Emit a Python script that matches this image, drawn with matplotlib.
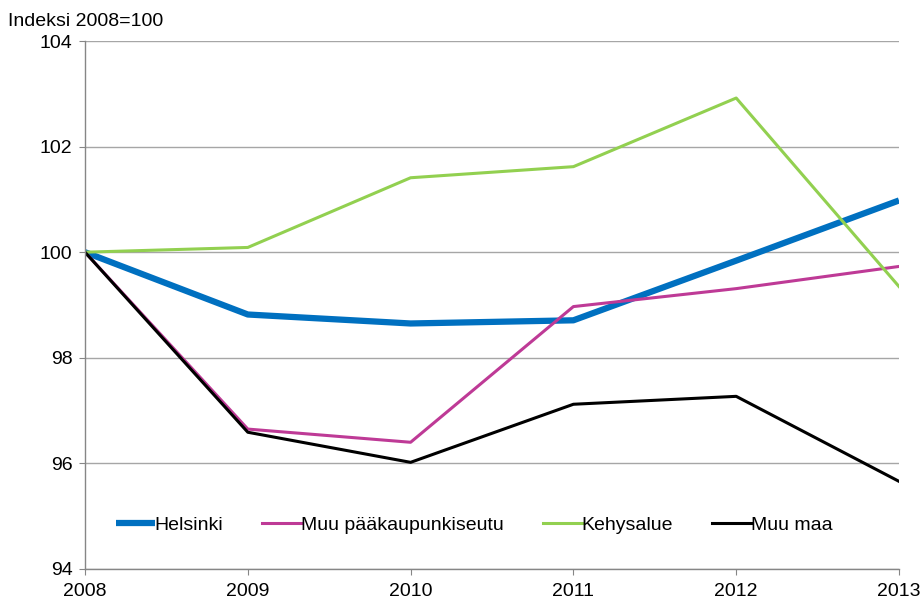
import matplotlib.pyplot as plt

plt.rcParams['font.family'] = ['Liberation Sans', 'DejaVu Sans']

years = [2008, 2009, 2010, 2011, 2012, 2013]

helsinki = [100.0, 98.82, 98.65, 98.71, 99.84, 100.98]
muu_pks = [100.0, 96.65, 96.40, 98.97, 99.31, 99.73]
kehysalue = [100.0, 100.09, 101.41, 101.62, 102.92, 99.35]
muu_maa = [100.0, 96.59, 96.02, 97.12, 97.27, 95.66]

fig = plt.figure(figsize=(9.21, 6.03), dpi=100)
ax = fig.add_axes([0.0923, 0.0564, 0.8838, 0.8756])

ax.plot(years, helsinki, color="#0070C0", lw=4.5, label="Helsinki", solid_capstyle="butt")
ax.plot(years, muu_pks, color="#BE3A96", lw=2.2, label="Muu pääkaupunkiseutu")
ax.plot(years, kehysalue, color="#92D050", lw=2.2, label="Kehysalue")
ax.plot(years, muu_maa, color="black", lw=2.2, label="Muu maa")

ax.set_xlim(2008, 2013)
ax.set_ylim(94, 104)
ax.set_xticks(years)
ax.set_yticks(range(94, 105, 2))
ax.grid(axis="y", color="#A6A6A6", lw=1)
ax.set_axisbelow(True)

for s in ["top", "right"]:
    ax.spines[s].set_visible(False)
for s in ["left", "bottom"]:
    ax.spines[s].set_color("#868686")
    ax.spines[s].set_linewidth(1)

ax.tick_params(axis="both", colors="#868686", labelcolor="black", labelsize=14, length=4)
ax.tick_params(axis="x", pad=6)
ax.tick_params(axis="y", pad=5)

ax.text(-0.094, 1.02, "Indeksi 2008=100", transform=ax.transAxes, fontsize=14, ha="left", va="bottom")

leg = ax.legend(loc="lower center", bbox_to_anchor=(0.478, 0.033), ncol=4, frameon=False,
                fontsize=14, handlelength=2.0, handletextpad=0.0, columnspacing=2.0)

fig.savefig("out.png", dpi=100)
